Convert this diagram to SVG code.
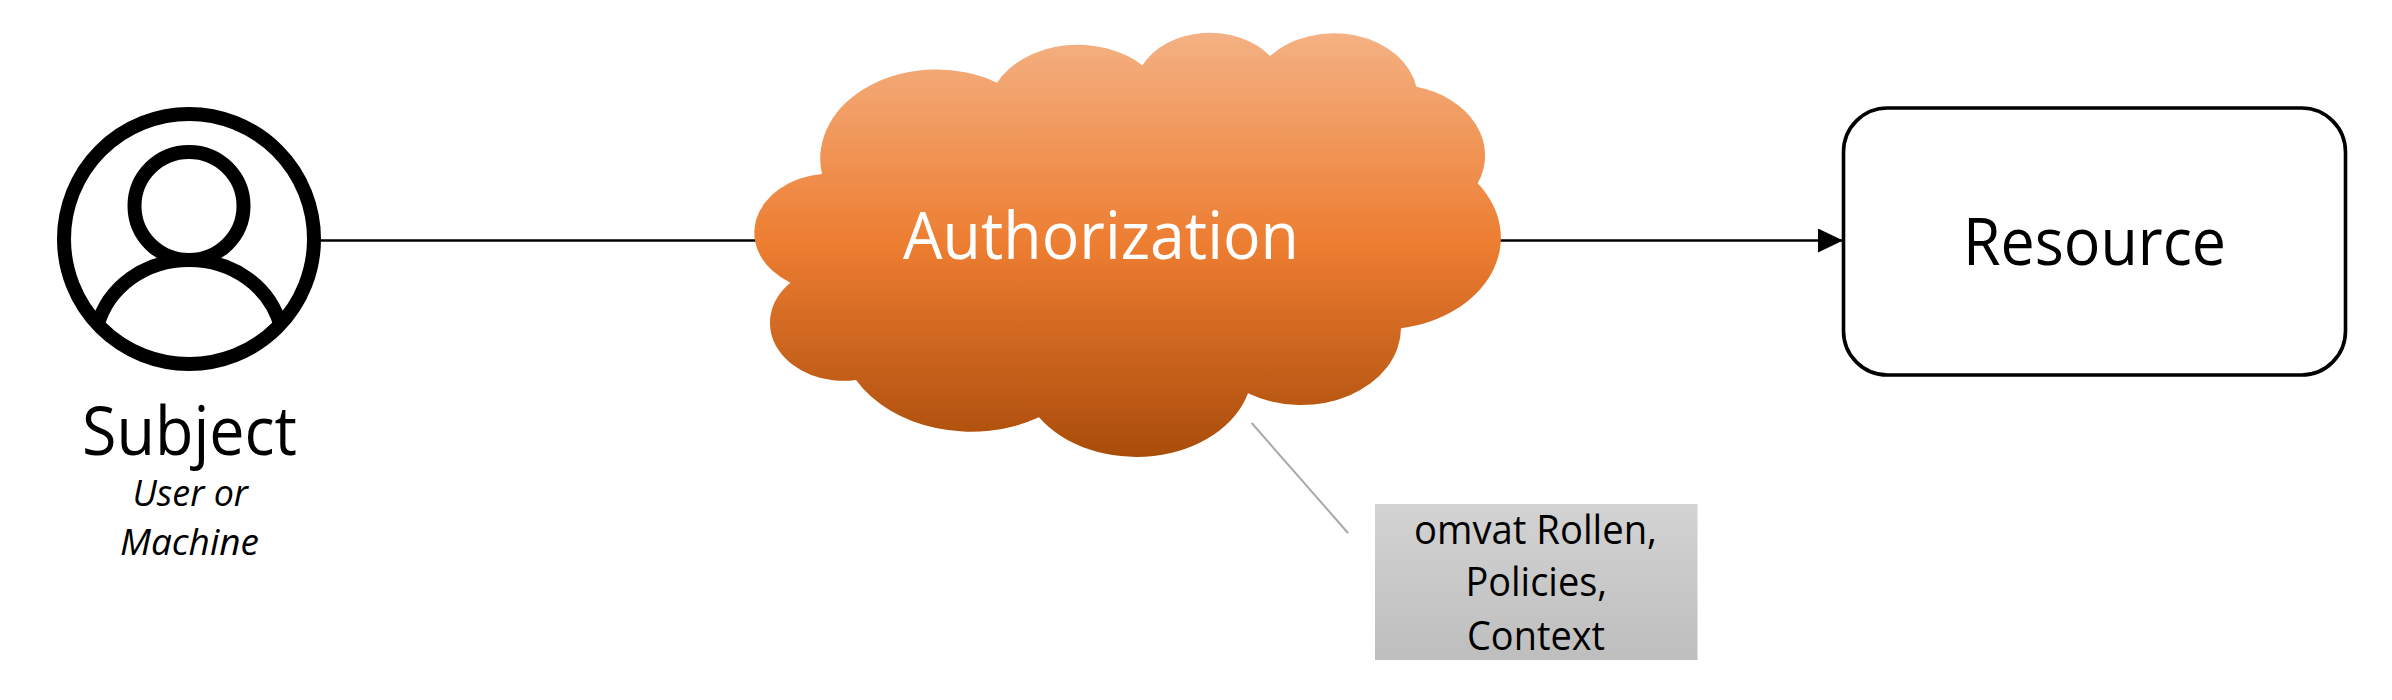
<svg xmlns="http://www.w3.org/2000/svg" width="2392" height="700" viewBox="0 0 2392 700">
  <style>
    text { font-family: "Open Sans", "Noto Sans", "Liberation Sans", sans-serif; fill: #000; }
    .icon { fill: none; stroke: #000; stroke-width: 14; }
    .wire { fill: none; stroke: #000; stroke-width: 2.6; }
    .big { font-size: 66px; }
    .mid { font-size: 40px; }
    .sub { font-size: 36px; font-style: italic; }
  </style>
  <defs>
    <linearGradient id="cloudFill" gradientUnits="userSpaceOnUse" x1="0" y1="33" x2="0" y2="457">
      <stop offset="0" stop-color="#F4B183"/>
      <stop offset="0.5" stop-color="#ED7D31"/>
      <stop offset="1" stop-color="#A94C0A"/>
    </linearGradient>
    <linearGradient id="noteFill" x1="0" y1="0" x2="0" y2="1">
      <stop offset="0" stop-color="#D3D3D3"/>
      <stop offset="1" stop-color="#BEBEBE"/>
    </linearGradient>
    <marker id="arrow" markerUnits="userSpaceOnUse" markerWidth="25" markerHeight="24" refX="25" refY="12" orient="auto">
      <path d="M0 0 L25 12 L0 24 Z" fill="#000"/>
    </marker>
  </defs>
  <rect width="2392" height="700" fill="#fff"/>
  <g id="connectors">
    <line class="wire" x1="321" y1="240.5" x2="770" y2="240.5"/>
    <line class="wire" x1="1498" y1="240.5" x2="1843" y2="240.5" marker-end="url(#arrow)"/>
    <line x1="1251.7" y1="423" x2="1348" y2="533" stroke="#A8A8A8" stroke-width="2"/>
  </g>
  <g id="subject">
    <circle class="icon" cx="189" cy="239" r="125"/>
    <ellipse class="icon" cx="189" cy="206" rx="54.5" ry="54"/>
    <path class="icon" d="M97 327 C108 286 146 260 189 260 C232 260 270 286 281 327"/>
    <text class="big" style="font-size:68px" x="82" y="455" textLength="215" lengthAdjust="spacingAndGlyphs">Subject</text>
    <text class="sub" x="132.5" y="506" textLength="115.5" lengthAdjust="spacingAndGlyphs">User or</text>
    <text class="sub" x="120" y="555" textLength="139" lengthAdjust="spacingAndGlyphs">Machine</text>
  </g>
  <g id="authorization">
    <path fill="url(#cloudFill)" d="M822 174 A116 89 0 0 1 997 82.7 A91 70 0 0 1 1142.4 65.3 A75 58 0 0 1 1270 56 A84 65 0 0 1 1416.4 86.7 A92 71 0 0 1 1477.7 183.3 A120 92 0 0 1 1401 328.3 A100 77 0 0 1 1248 393.3 A116 87 0 0 1 1039 417.3 A132 101 0 0 1 856 380 A73.5 58 0 0 1 790.4 282.7 A76.5 59 0 0 1 822 174 Z"/>
    <text class="big" x="903" y="259" textLength="396" lengthAdjust="spacingAndGlyphs" style="fill:#fff">Authorization</text>
  </g>
  <g id="resource">
    <rect x="1843.5" y="108" width="502" height="267" rx="44" ry="44" fill="#fff" stroke="#000" stroke-width="3.6"/>
    <text class="big" x="1963" y="265" textLength="263" lengthAdjust="spacingAndGlyphs">Resource</text>
  </g>
  <g id="note">
    <rect x="1375" y="504" width="322.5" height="156" fill="url(#noteFill)"/>
    <text class="mid" x="1414" y="544" textLength="243" lengthAdjust="spacingAndGlyphs">omvat Rollen,</text>
    <text class="mid" x="1465.5" y="596" textLength="141.5" lengthAdjust="spacingAndGlyphs">Policies,</text>
    <text class="mid" x="1467" y="650" textLength="138" lengthAdjust="spacingAndGlyphs">Context</text>
  </g>
</svg>
